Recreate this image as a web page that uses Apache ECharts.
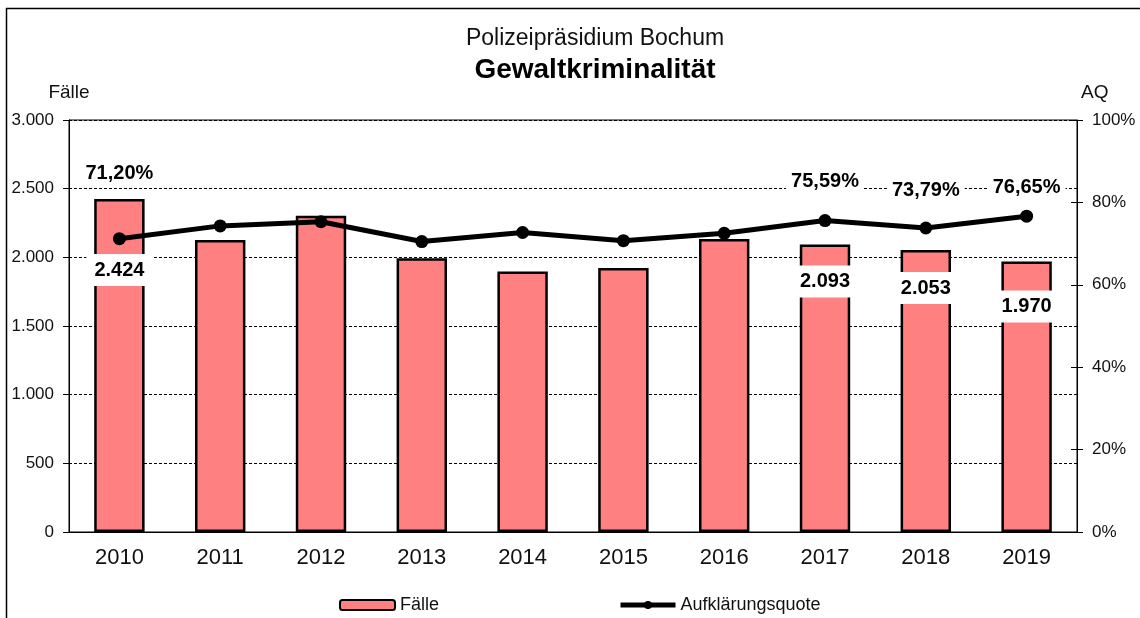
<!DOCTYPE html>
<html>
<head>
<meta charset="utf-8">
<script src="https://cdn.jsdelivr.net/npm/echarts@6/dist/echarts.min.js"></script>
<style>
  html, body { margin: 0; padding: 0; background: #fff; }
  #chart { width: 1140px; height: 618px; }
</style>
</head>
<body>
<div id="chart"></div>
<script>
var years = ['2010', '2011', '2012', '2013', '2014', '2015', '2016', '2017', '2018', '2019'];
var faelle = [2424, 2126, 2303, 1993, 1896, 1923, 2133, 2093, 2053, 1970];
var quote = [71.20, 74.3, 75.3, 70.5, 72.7, 70.7, 72.5, 75.59, 73.79, 76.65];
var labelledYears = ['2010', '2017', '2018', '2019'];
var leftTicks = [0, 3000, 500];
var rightTicks = [0, 100, 20];

var font = 'Liberation Sans, Arial, sans-serif';

// Excel moved the labels by hand, keep that a bit
var barLabelGap = { '2010': 55, '2017': 21, '2018': 22, '2019': 29 };
var lineLabelGap = { '2010': 46, '2017': 20, '2018': 18, '2019': 9 };

function thousands(v) {
  return String(v).replace(/\B(?=(\d{3})+(?!\d))/g, '.');
}
function pct(v) {
  return v.toFixed(2).replace('.', ',') + '%';
}

var labelBox = {
  show: true,
  color: '#000',
  fontFamily: font,
  fontWeight: 'bold',
  fontSize: 20,
  backgroundColor: '#fff'
};

var barData = faelle.map(function (v, i) {
  var y = years[i];
  if (!~labelledYears.indexOf(y)) {
    return v;
  }
  return {
    value: v,
    label: Object.assign({}, labelBox, {
      position: 'insideTop',
      distance: barLabelGap[y],
      padding: [6, 8],
      formatter: function (p) { return thousands(p.value); }
    })
  };
});

var lineData = quote.map(function (v, i) {
  var y = years[i];
  if (!~labelledYears.indexOf(y)) {
    return v;
  }
  return {
    value: v,
    label: Object.assign({}, labelBox, {
      position: 'top',
      distance: lineLabelGap[y],
      padding: [3, 5],
      formatter: function (p) { return pct(p.value); }
    })
  };
});

var chart = echarts.init(document.getElementById('chart'));

var axisText = { color: '#111', fontFamily: font, fontSize: 17 };

chart.setOption({
  animation: false,
  backgroundColor: '#fff',
  title: {
    text: 'Polizeipräsidium Bochum',
    subtext: 'Gewaltkriminalität',
    left: 590,
    top: 22,
    textAlign: 'center',
    itemGap: 6,
    textStyle: { color: '#111', fontFamily: font, fontWeight: 'normal', fontSize: 23 },
    subtextStyle: { color: '#000', fontFamily: font, fontWeight: 'bold', fontSize: 28 }
  },
  legend: {
    left: 334,
    top: 591,
    itemWidth: 55,
    itemHeight: 10,
    itemGap: 179,
    lineStyle: { width: 5 },
    textStyle: { color: '#111', fontFamily: font, fontSize: 18 },
    data: ['Fälle', 'Aufklärungsquote']
  },
  grid: {
    left: 69,
    right: 63,
    top: 120,
    bottom: 86,
    show: true,
    borderColor: '#000',
    borderWidth: 1
  },
  graphic: [{
    type: 'rect',
    shape: { x: 6.5, y: 8.5, width: 1300, height: 800 },
    style: { fill: null, stroke: '#000', lineWidth: 1.5 },
    silent: true
  }],
  xAxis: [{
    type: 'category',
    data: years,
    axisLine: { lineStyle: { color: '#000', width: 1 } },
    axisTick: { length: 7, lineStyle: { color: '#000' } },
    axisLabel: { color: '#111', fontFamily: font, fontSize: 22, margin: 15 }
  }, {
    type: 'category',
    data: years,
    position: 'bottom',
    axisLine: { show: false },
    axisTick: { inside: true, length: 6, lineStyle: { color: '#000' } },
    axisLabel: { show: false }
  }],
  yAxis: [{
    type: 'value',
    name: 'Fälle',
    nameGap: 18,
    nameTextStyle: { color: '#111', fontFamily: font, fontSize: 19 },
    min: leftTicks[0],
    max: leftTicks[1],
    interval: leftTicks[2],
    axisLine: { show: true, lineStyle: { color: '#000' } },
    axisTick: { show: true, length: 6, lineStyle: { color: '#000' } },
    axisLabel: Object.assign({ margin: 15, formatter: thousands }, axisText),
    splitLine: { lineStyle: { color: '#000', type: [3, 2], width: 1 } }
  }, {
    type: 'value',
    name: 'AQ',
    nameGap: 18,
    nameTextStyle: { color: '#111', fontFamily: font, fontSize: 19, align: 'left', padding: [0, 0, 0, 4] },
    position: 'right',
    min: rightTicks[0],
    max: rightTicks[1],
    interval: rightTicks[2],
    axisLine: { show: true, lineStyle: { color: '#000' } },
    axisTick: { show: true, length: 6, lineStyle: { color: '#000' } },
    axisLabel: Object.assign({ margin: 15, formatter: '{value}%' }, axisText),
    splitLine: { show: false }
  }, {
    type: 'value',
    position: 'right',
    min: rightTicks[0],
    max: rightTicks[1],
    interval: rightTicks[2],
    axisLine: { show: false },
    axisTick: { show: true, inside: true, length: 6, lineStyle: { color: '#000' } },
    axisLabel: { show: false },
    splitLine: { show: false }
  }],
  series: [{
    name: 'Fälle',
    type: 'bar',
    yAxisIndex: 0,
    barWidth: '50%',
    itemStyle: { color: '#FF8080', borderColor: '#000', borderWidth: 2.5 },
    data: barData,
    z: 2
  }, {
    name: 'Aufklärungsquote',
    type: 'line',
    yAxisIndex: 1,
    symbol: 'circle',
    symbolSize: 13,
    lineStyle: { color: '#000', width: 5 },
    itemStyle: { color: '#000' },
    data: lineData,
    z: 3
  }]
});
</script>
</body>
</html>
